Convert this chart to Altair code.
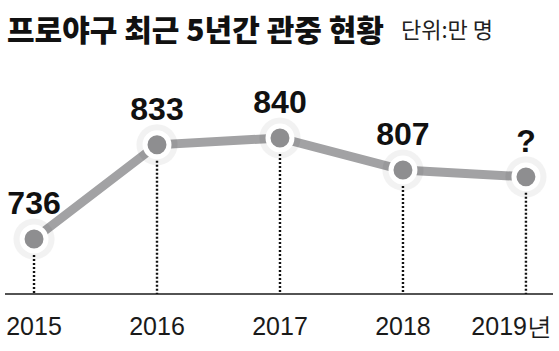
import altair as alt
import pandas as pd

years = [2015, 2016, 2017, 2018, 2019]
values = [736, 833, 840, 807, 800]
value_labels = ["736", "833", "840", "807", "?"]
year_labels = ["2015", "2016", "2017", "2018", "2019년"]
title_text = "프로야구 최근 5년간 관중 현황"
unit_text = "단위:만 명"

Y0, Y1 = 679.4, 920.3

df = pd.DataFrame({"year": years, "value": values,
                   "vlabel": value_labels, "ylabel": year_labels})
df["floor"] = Y0

xs = alt.Scale(domain=[2014.764, 2019.22])
ys = alt.Scale(domain=[Y0, Y1])
X = alt.X("year:Q", scale=xs, axis=None)
Y = alt.Y("value:Q", scale=ys, axis=None)
YF = alt.Y("floor:Q", scale=ys, axis=None)

NUM_FONT = "Liberation Sans, Arial, sans-serif"
KR_FONT = "Noto Sans CJK KR"

base = alt.Chart(df)

baseline = alt.Chart(pd.DataFrame({"floor": [Y0]})).mark_rule(
    color="#1a1a1a", strokeWidth=1.6).encode(YF)
drops = base.mark_rule(color="#111111", strokeWidth=2.4, strokeDash=[2, 2]).encode(
    X, Y, y2="floor:Q")
line = base.mark_line(color="#a2a2a4", strokeWidth=9).encode(X, Y)
halo = base.mark_circle(color="#000000", opacity=0.05, size=1700).encode(X, Y)
points = base.mark_circle(fill="#8e8e90", stroke="white", strokeWidth=5,
                          size=573, opacity=1).encode(X, Y)
vlab = base.mark_text(font=NUM_FONT, fontSize=32, fontWeight="bold", dy=-25,
                      baseline="alphabetic", color="#111111").encode(X, Y, text="vlabel:N")
xlab = base.transform_filter("datum.year < 2019").mark_text(
    font=NUM_FONT, fontSize=25, dy=41, baseline="alphabetic", color="#1a1a1a"
).encode(X, YF, text="ylabel:N")
xlab_last = base.transform_filter("datum.year == 2019").mark_text(
    font=NUM_FONT, fontSize=25, dy=41, dx=26, align="right", baseline="alphabetic",
    color="#1a1a1a"
).encode(X, YF, text="ylabel:N")
title = alt.Chart(pd.DataFrame({"t": [title_text]})).mark_text(
    font=KR_FONT, fontSize=30, fontWeight=900, align="left", baseline="alphabetic",
    color="#111111").encode(x=alt.value(2), y=alt.value(-19), text="t:N")
unit = alt.Chart(pd.DataFrame({"t": [unit_text]})).mark_text(
    font=KR_FONT, fontSize=22, align="left", baseline="alphabetic",
    color="#222222").encode(x=alt.value(396), y=alt.value(-22), text="t:N")

chart = alt.layer(baseline, drops, line, halo, points, vlab, xlab, xlab_last, title, unit).properties(
    width=548, height=234,
    padding={"left": 5, "right": 6, "top": 60, "bottom": 57},
    autosize=alt.AutoSizeParams(type="none"),
    background="white",
).configure_view(stroke=None)

chart.save("out.html", embed_options={"renderer": "svg", "actions": False})
